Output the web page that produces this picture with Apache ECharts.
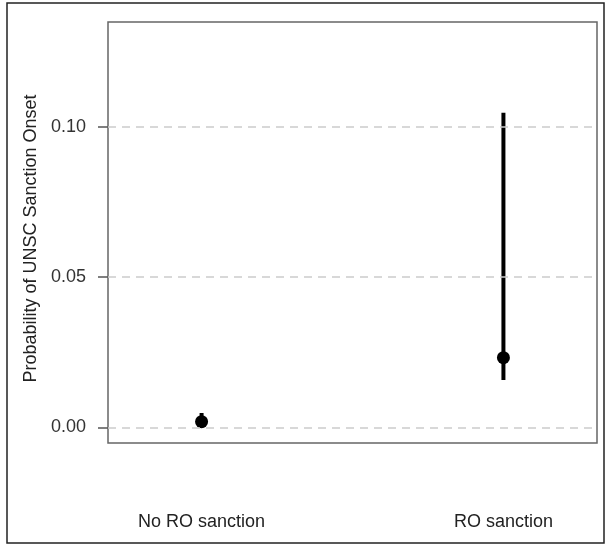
<!DOCTYPE html>
<html>
<head>
<meta charset="utf-8">
<script src="https://cdn.jsdelivr.net/npm/echarts@6/dist/echarts.min.js"></script>
<style>
  html, body { margin: 0; padding: 0; background: #fff; }
  #main { width: 605px; height: 545px; }
</style>
</head>
<body>
<div id="main"></div>
<script>
// categories and estimates
var categories = ['No RO sanction', 'RO sanction'];
var catPos = [1, 2];
var estimates = [0.0019, 0.0232];
var lower = [0.0007, 0.0158];
var upper = [0.0048, 0.1048];
var yTicks = [0, 0.05, 0.10];

var myChart = echarts.init(document.getElementById('main'));

var points = catPos.map(function (x, i) { return [x, estimates[i]]; });
var bars = catPos.map(function (x, i) { return [x, lower[i], upper[i]]; });

var option = {
  animation: false,
  textStyle: { fontFamily: 'Liberation Sans, Arial, sans-serif' },
  graphic: [{
    type: 'rect',
    shape: { x: 7, y: 3, width: 597, height: 540 },
    style: { fill: 'none', stroke: '#222', lineWidth: 1.5 },
    silent: true
  }],
  grid: {
    left: 108, right: 8, top: 22, bottom: 102,
    show: true, borderColor: '#666', borderWidth: 1.5
  },
  xAxis: {
    type: 'value',
    min: 0.69, max: 2.31,
    axisLine: { show: false },
    axisTick: { show: false },
    splitLine: { show: false },
    axisLabel: {
      customValues: catPos,
      formatter: function (v) { return categories[Math.round(v) - 1]; },
      margin: 70,
      fontSize: 18,
      color: '#222'
    }
  },
  yAxis: {
    type: 'value',
    min: -0.0052, max: 0.135,
    name: 'Probability of UNSC Sanction Onset',
    nameLocation: 'middle',
    nameGap: 60,
    nameTextStyle: { fontSize: 18, color: '#222', padding: [0, 12, 0, 0] },
    axisLine: { show: false },
    splitLine: { show: false },
    axisTick: {
      customValues: yTicks,
      inside: false, length: 10,
      lineStyle: { color: '#555', width: 1.5 }
    },
    axisLabel: {
      customValues: yTicks,
      formatter: function (v) { return v.toFixed(2); },
      margin: 22,
      fontSize: 18,
      color: '#333'
    }
  },
  series: [
    {
      type: 'custom',
      data: bars,
      renderItem: function (params, api) {
        var top = api.coord([api.value(0), api.value(2)]);
        var bot = api.coord([api.value(0), api.value(1)]);
        return {
          type: 'line',
          shape: { x1: top[0], y1: top[1], x2: bot[0], y2: bot[1] },
          style: { stroke: '#000', lineWidth: 4 }
        };
      },
      markLine: {
        silent: true,
        symbol: 'none',
        label: { show: false },
        lineStyle: { color: '#ccc', type: [8, 6], width: 1.5 },
        data: yTicks.map(function (t) { return { yAxis: t }; })
      },
      z: 3
    },
    {
      type: 'scatter',
      data: points,
      symbol: 'circle',
      symbolSize: 13,
      itemStyle: { color: '#000', opacity: 1 },
      z: 4
    }
  ]
};

myChart.setOption(option);
</script>
</body>
</html>
